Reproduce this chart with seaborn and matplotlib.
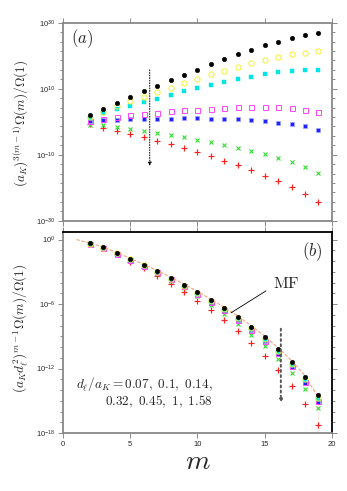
import numpy as np
import pandas as pd
import seaborn as sns
import matplotlib.pyplot as plt
from matplotlib.ticker import FixedLocator, NullFormatter

sns.set_style("ticks")
plt.rcParams['font.family'] = ['Liberation Sans', 'DejaVu Sans']
plt.rcParams['mathtext.fontset'] = 'cm'

# cluster size m
m = np.arange(2, 20)
d_over_aK = [0.07, 0.1, 0.14, 0.32, 0.45, 1, 1.58]

# panel (a): log10 of (a_K)^{3(m-1)} Omega(m)/Omega(1)
a_red = [-0.8, -1.8, -2.7, -3.7, -4.7, -5.85, -6.85, -8.05, -9.3, -10.5, -11.9, -13.2, -14.7, -16.4, -18.0, -19.9, -22.0, -24.4]
a_green = [-0.9, -1.0, -1.5, -2.1, -2.7, -3.3, -3.9, -4.7, -5.45, -6.15, -7.0, -7.9, -8.9, -9.9, -11.1, -12.3, -13.8, -15.5]
a_blue = [0.1, 0.5, 0.6, 0.7, 0.8, 0.9, 0.9, 1.0, 1.0, 0.8, 0.8, 0.7, 0.5, 0.2, -0.3, -0.8, -1.4, -2.5]
a_magenta = [0.35, 0.9, 1.5, 2.0, 2.45, 2.75, 3.15, 3.45, 3.65, 3.85, 4.15, 4.35, 4.45, 4.45, 4.35, 4.25, 3.65, 3.05]
a_cyan = [1.0, 2.55, 3.8, 4.8, 5.9, 7.0, 8.1, 9.2, 10.1, 11.1, 12.0, 12.85, 13.6, 14.45, 15.0, 15.4, 15.7, 15.7]
a_yellow = [1.4, 3.0, 4.76, 6.2, 7.6, 9.0, 10.3, 11.7, 12.9, 14.3, 15.5, 16.7, 17.8, 18.8, 19.7, 20.4, 20.9, 21.3]
a_black = [1.95, 3.85, 5.7, 7.4, 9.2, 10.8, 12.5, 14.06, 15.8, 17.4, 18.9, 20.4, 21.8, 23.1, 24.2, 25.4, 26.4, 26.9]

# panel (b): log10 of (a_K d^2)^{m-1} Omega(m)/Omega(1)
b_red = [-0.42, -0.82, -1.38, -2.05, -2.65, -3.37, -4.1, -4.9, -5.75, -6.6, -7.5, -8.5, -9.6, -10.84, -12.15, -13.6, -15.3, -17.25]
b_green = [-0.4, -0.81, -1.35, -1.96, -2.54, -3.18, -3.85, -4.55, -5.28, -6.13, -6.97, -7.9, -8.9, -9.92, -11.11, -12.4, -13.88, -15.7]
b_blue = [-0.42, -0.8, -1.32, -1.91, -2.47, -3.08, -3.72, -4.4, -5.1, -5.88, -6.65, -7.52, -8.46, -9.47, -10.62, -11.83, -13.3, -15.1]
b_magenta = [-0.41, -0.79, -1.31, -1.89, -2.45, -3.06, -3.69, -4.36, -5.06, -5.83, -6.6, -7.46, -8.39, -9.4, -10.55, -11.75, -13.22, -15.0]
b_cyan = [-0.4, -0.78, -1.3, -1.87, -2.43, -3.03, -3.66, -4.33, -5.02, -5.79, -6.55, -7.4, -8.32, -9.32, -10.45, -11.63, -13.1, -14.88]
b_yellow = [-0.38, -0.76, -1.27, -1.85, -2.4, -3.0, -3.63, -4.29, -4.98, -5.74, -6.49, -7.33, -8.24, -9.22, -10.35, -11.55, -13.0, -14.72]
b_black = [-0.35, -0.73, -1.23, -1.80, -2.34, -2.93, -3.55, -4.20, -4.88, -5.63, -6.37, -7.20, -8.10, -9.07, -10.19, -11.37, -12.80, -14.50]

# mean-field curve, drops to zero right at m = 19
mf_m = [1, 2, 3, 4, 5, 6, 7, 8, 9, 10, 11, 12, 13, 14, 15, 16, 17, 18, 19, 19]
mf_val = [0, -0.33, -0.70, -1.2, -1.76, -2.3, -2.88, -3.5, -4.15, -4.83, -5.57, -6.3, -7.12, -8.02, -8.98, -10.08, -11.25, -12.68, -14.4, -40]

# gnuplot-like point types: +, x, *, open box, filled box, open circle, filled circle
styles = [
    dict(marker='+', markersize=4.0, markeredgecolor='#ff2020', markeredgewidth=0.85),
    dict(marker='x', markersize=3.2, markeredgecolor='#30dd30', markeredgewidth=0.8),
    dict(marker='s', markersize=2.6, markerfacecolor='#2222ff', markeredgecolor='#a0a0ff', markeredgewidth=0.5),
    dict(marker='s', markersize=3.6, markerfacecolor='none', markeredgecolor='#ff44ff', markeredgewidth=0.7),
    dict(marker='s', markersize=3.2, markerfacecolor='#00e5e5', markeredgecolor='#00e5e5', markeredgewidth=0.3),
    dict(marker='o', markersize=3.8, markerfacecolor='none', markeredgecolor='#f2ef30', markeredgewidth=0.7),
    dict(marker='o', markersize=3.3, markerfacecolor='black', markeredgecolor='black', markeredgewidth=0.3),
]

series_a = [a_red, a_green, a_blue, a_magenta, a_cyan, a_yellow, a_black]
series_b = [b_red, b_green, b_blue, b_magenta, b_cyan, b_yellow, b_black]

fig = plt.figure(figsize=(3.47, 4.91), dpi=100)
ax1 = fig.add_axes([0.1816, 0.5505, 0.775, 0.4033])
ax2 = fig.add_axes([0.1816, 0.1181, 0.775, 0.4104])

for vals, st in zip(series_a, styles):
    df = pd.DataFrame({'m': m, 'y': 10.0 ** np.array(vals)})
    sns.lineplot(data=df, x='m', y='y', ax=ax1, linestyle='none', zorder=3, **st)

df_mf = pd.DataFrame({'m': mf_m, 'y': 10.0 ** np.array(mf_val)})
sns.lineplot(data=df_mf, x='m', y='y', ax=ax2, sort=False, color='#f7a37c',
             linestyle=(0, (3, 1.5)), linewidth=0.8, zorder=2)
for vals, st in zip(series_b, styles):
    df = pd.DataFrame({'m': m, 'y': 10.0 ** np.array(vals)})
    sns.lineplot(data=df, x='m', y='y', ax=ax2, linestyle='none', zorder=3, **st)

for ax in (ax1, ax2):
    ax.set_yscale('log')
    ax.set_xlim(0, 20)
    ax.set_xticks([0, 5, 10, 15, 20])
    ax.tick_params(which='both', direction='out', color='#777777', width=0.6,
                   top=True, right=True, labelsize=5.5, pad=2)
    ax.tick_params(which='major', length=3.5)
    ax.tick_params(which='minor', length=2)
    for sp in ax.spines.values():
        sp.set_color('#888888')
        sp.set_linewidth(1.3)
    ax.set_xlabel('')
    ax.set_ylabel('')

ax1.set_ylim(1e-30, 1e30)
ax1.yaxis.set_major_locator(FixedLocator([1e-30, 1e-10, 1e10, 1e30]))
ax1.set_yticklabels([r'$\mathregular{10^{-30}}$', r'$\mathregular{10^{-10}}$',
                     r'$\mathregular{10^{10}}$', r'$\mathregular{10^{30}}$'])
ax1.yaxis.set_minor_locator(FixedLocator(10.0 ** np.linspace(-30, 30, 22)))
ax1.yaxis.set_minor_formatter(NullFormatter())
ax1.tick_params(axis='x', labelbottom=False)
ax1.set_ylabel(r'$(a_K)^{3(m-1)}\Omega(m)/\Omega(1)$', fontsize=9.5)
ax1.yaxis.set_label_coords(-0.118, 0.49)
ax1.text(0.07, 0.918, r'$(a)$', transform=ax1.transAxes, fontsize=12, ha='center', va='center')
ax1.annotate('', xy=(6.45, 10 ** -13.4), xytext=(6.45, 10 ** 15.7),
             arrowprops=dict(arrowstyle='-|>', linestyle=':', lw=0.7, color='black',
                             mutation_scale=5, shrinkA=0, shrinkB=0))

ax2.set_ylim(1e-18, 10 ** 0.75)
ax2.yaxis.set_major_locator(FixedLocator([1e-18, 1e-12, 1e-6, 1e0]))
ax2.set_yticklabels([r'$\mathregular{10^{-18}}$', r'$\mathregular{10^{-12}}$',
                     r'$\mathregular{10^{-6}}$', r'$\mathregular{10^{0}}$'])
ax2.yaxis.set_minor_locator(FixedLocator(10.0 ** np.arange(-18, 1)))
ax2.yaxis.set_minor_formatter(NullFormatter())
ax2.spines['top'].set_color('black')
ax2.spines['right'].set_color('black')
ax2.set_ylabel(r'$(a_K d_\ell^2)^{m-1}\Omega(m)/\Omega(1)$', fontsize=9.5)
ax2.yaxis.set_label_coords(-0.118, 0.52)
ax2.set_xlabel(r'$m$', fontsize=20, labelpad=1)
ax2.text(0.925, 0.9, r'$(b)$', transform=ax2.transAxes, fontsize=12, ha='center', va='center')
ax2.annotate(r'$\mathrm{MF}$', xy=(12.49, 10 ** -6.82), xytext=(15.6, 10 ** -4.1),
             fontsize=11.5, ha='left', va='center',
             arrowprops=dict(arrowstyle='-', lw=0.6, color='black', shrinkA=3, shrinkB=0,
                             relpos=(0, 0.3)))
ax2.annotate('', xy=(16.2, 10 ** -15.2), xytext=(16.2, 10 ** -8.3),
             arrowprops=dict(arrowstyle='-|>', linestyle=':', lw=1.4, color='#555555',
                             mutation_scale=4, shrinkA=0, shrinkB=0))

vals_txt = [str(v) for v in d_over_aK]
line1 = r'$d_\ell/a_K = $' + r'$' + ',\ '.join(vals_txt[:3]) + r',$'
line2 = r'$' + ',\ '.join(vals_txt[3:]) + r'$'
ax2.text(0.558, 0.243, line1, transform=ax2.transAxes, fontsize=9.5, ha='right', va='center')
ax2.text(0.558, 0.155, line2, transform=ax2.transAxes, fontsize=9.5, ha='right', va='center')

fig.savefig('out.png', dpi=100)
